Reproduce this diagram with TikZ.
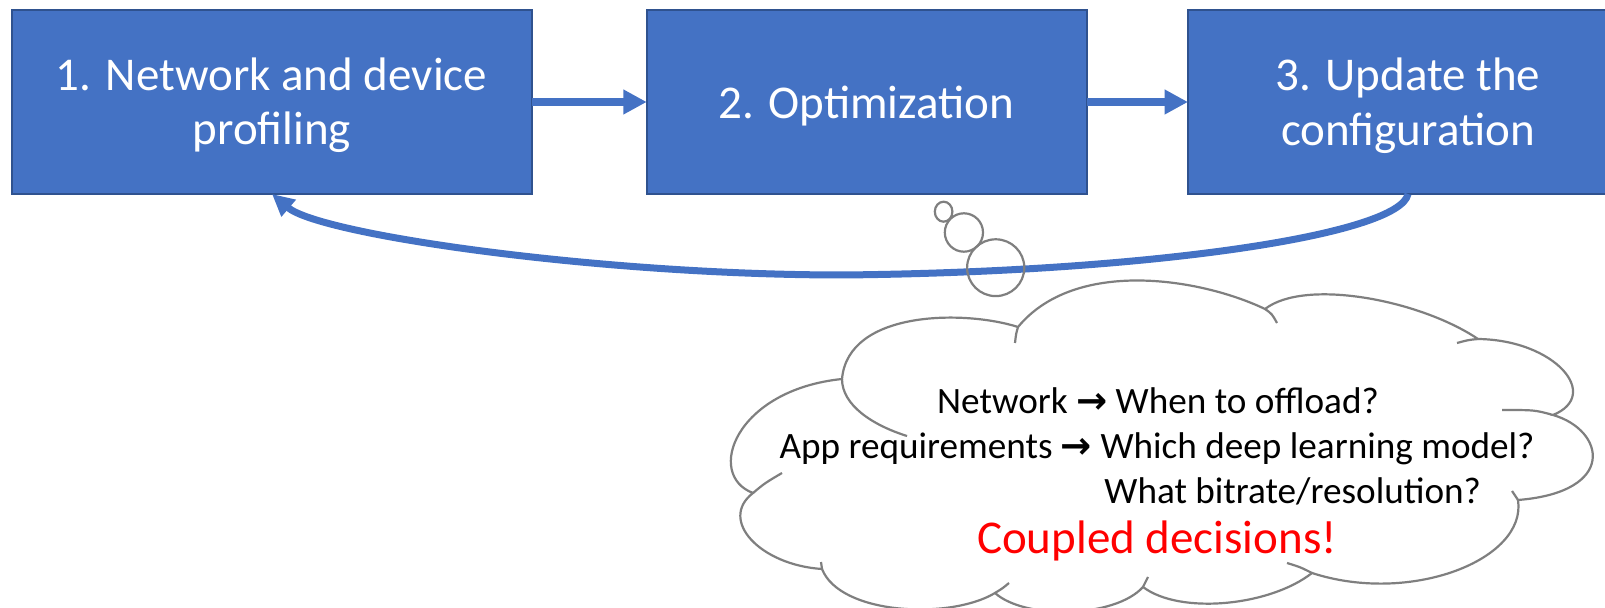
\documentclass[tikz,border=0pt]{standalone}
\usepackage{fontspec}
\setmainfont{Carlito}
\newfontfamily\symfont{DejaVu Sans}
\usetikzlibrary{arrows.meta}
\definecolor{boxblue}{HTML}{4472C4}
\definecolor{boxedge}{HTML}{2F528F}
\definecolor{cloudgray}{HTML}{7F7F7F}
\definecolor{hotred}{HTML}{FF0000}
\tikzset{
  box/.style={draw=boxedge, fill=boxblue, line width=0.85pt, minimum height=92pt, inner sep=0pt, outer sep=0pt},
  boxtext/.style={text=white, font=\fontsize{23.5}{28}\selectfont, anchor=base, inner sep=0pt},
  flow/.style={draw=boxblue, line width=3.75pt, -{Triangle[length=11.75pt,width=11.75pt]}},
  fb/.style={draw=boxblue, line width=3.5pt, -{Triangle[length=11pt,width=10.5pt]}},
  cloudline/.style={draw=cloudgray, line width=1.1pt},
  cloudtext/.style={text=black, font=\fontsize{18.6}{22}\selectfont, inner sep=0pt, anchor=base},
  bigred/.style={text=hotred, font=\fontsize{23.5}{28}\selectfont, inner sep=0pt, anchor=base},
}
\newcommand\rarr{{\symfont\bfseries →}}
\begin{document}
\begin{tikzpicture}[x=0.5pt,y=-0.5pt]
\useasboundingbox (0,0) rectangle (1605,608);
\clip (0,0) rectangle (1605,608);
% boxes
\node[box, minimum width=260pt] (b1) at (272,102) {};
\node[box, minimum width=220pt] (b2) at (866.75,102) {};
\node[box, minimum width=220pt] (b3) at (1408,102) {};
\node[boxtext] (t1a) at (271.5,91) {1. Network and device};
\node[boxtext] (t1b) at (272,145) {profiling};
\node[boxtext] (t2) at (866.5,118.3) {2. Optimization};
\node[boxtext] (t3a) at (1408,91) {3. Update the};
\node[boxtext] (t3b) at (1408,146) {configuration};
% flow arrows
\draw[flow] (b1.east) -- (b2.west);
\draw[flow] (b2.east) -- (b3.west);
% feedback
\coordinate (fbmid) at (843,275);
\draw[fb] (b3.south) .. controls (1400,235) and (1150,272) .. (fbmid) .. controls (600,275) and (320,235) .. (b1.south);
% thought bubbles
\draw[cloudline] (943.6,211.7) ellipse [x radius=4.4pt, y radius=5pt];
\draw[cloudline] (963.9,232.5) ellipse [x radius=9.55pt, y radius=9.6pt];
\draw[cloudline] (995.7,267.7) ellipse [x radius=14.3pt, y radius=14.2pt];
% cloud
\path[cloudline, fill=white] (842,379)
  .. controls (848,310) and (965,310) .. (1018,327)
  .. controls (1075,258) and (1200,278) .. (1265,309)
  .. controls (1305,278) and (1420,300) .. (1478,339)
  .. controls (1555,340) and (1602,395) .. (1553,415)
  .. controls (1605,430) and (1618,492) .. (1518,500)
  .. controls (1527,560) and (1410,605) .. (1312,573)
  .. controls (1270,606) and (1180,615) .. (1143,587)
  .. controls (1115,618) and (1025,620) .. (995,593)
  .. controls (950,620) and (840,615) .. (822,569)
  .. controls (760,565) and (718,520) .. (753,493)
  .. controls (705,475) and (735,390) .. (842,379) -- cycle;
\draw[cloudline] (842,379) .. controls (842,405) and (872,425) .. (907,436);
\draw[cloudline] (1018,327) .. controls (1016,334) .. (1015,343);
\draw[cloudline] (1265,309) .. controls (1272,314) .. (1277,323);
\draw[cloudline] (1478,339) .. controls (1468,340) .. (1457,343);
\draw[cloudline] (1553,415) .. controls (1535,410) .. (1502,410);
\draw[cloudline] (1518,500) -- (1512,491);
\draw[cloudline] (1312,573) .. controls (1300,567) .. (1287,563);
\draw[cloudline] (1143,587) -- (1148,577);
\draw[cloudline] (995,593) .. controls (1003,588) .. (1009,583);
\draw[cloudline] (822,569) -- (821,562);
\draw[cloudline] (753,493) .. controls (765,483) .. (782,473);
% cloud text
\node[cloudtext] (c1) at (1158,413.3) {Network \rarr{} When to offload?};
\node[cloudtext] (c2) at (1157,458.3) {App requirements \rarr{} Which deep learning model?};
\node[cloudtext, anchor=base west] (c3) at (1104,503.3) {What bitrate/resolution?};
\node[bigred] (c4) at (1157,553.3) {Coupled decisions!};
\end{tikzpicture}
\end{document}
